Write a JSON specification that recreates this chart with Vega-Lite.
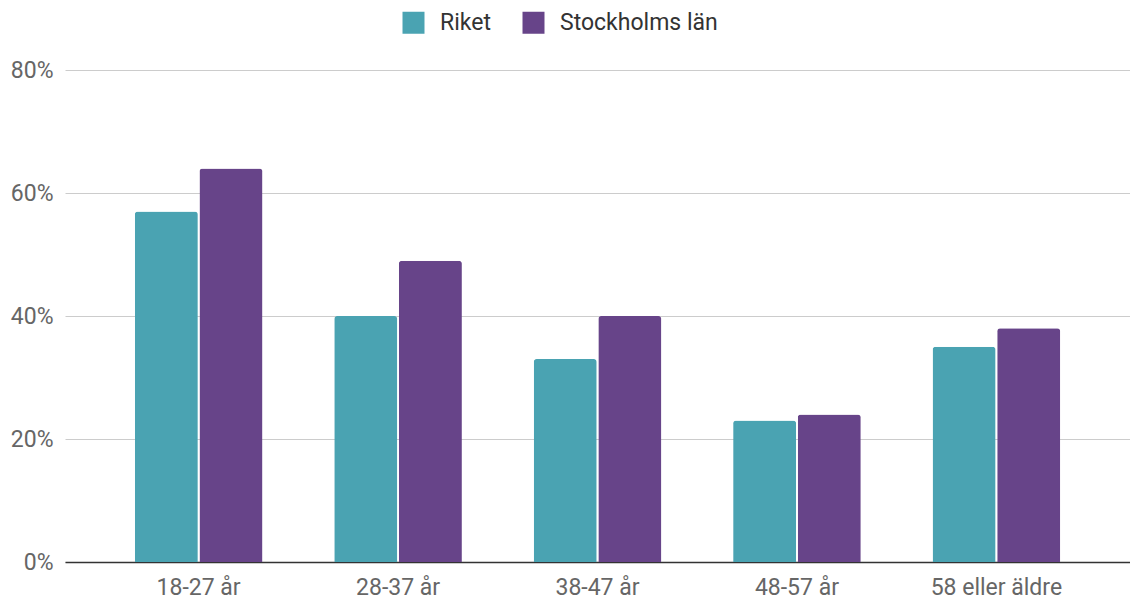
{
  "$schema": "https://vega.github.io/schema/vega-lite/v6.json",
  "width": 1065,
  "height": 492,
  "autosize": "none",
  "padding": {"left": 65, "top": 70, "right": 0, "bottom": 37},
  "background": "white",
  "config": {
    "font": "Roboto",
    "view": {"stroke": null}
  },
  "data": {
    "values": [
      {"grupp": "18-27 år", "serie": "Riket", "andel": 0.57},
      {"grupp": "18-27 år", "serie": "Stockholms län", "andel": 0.64},
      {"grupp": "28-37 år", "serie": "Riket", "andel": 0.40},
      {"grupp": "28-37 år", "serie": "Stockholms län", "andel": 0.49},
      {"grupp": "38-47 år", "serie": "Riket", "andel": 0.33},
      {"grupp": "38-47 år", "serie": "Stockholms län", "andel": 0.40},
      {"grupp": "48-57 år", "serie": "Riket", "andel": 0.23},
      {"grupp": "48-57 år", "serie": "Stockholms län", "andel": 0.24},
      {"grupp": "58 eller äldre", "serie": "Riket", "andel": 0.35},
      {"grupp": "58 eller äldre", "serie": "Stockholms län", "andel": 0.38}
    ]
  },
  "mark": {"type": "bar", "cornerRadiusTopLeft": 3, "cornerRadiusTopRight": 3},
  "encoding": {
    "x": {
      "field": "grupp",
      "type": "nominal",
      "sort": null,
      "title": null,
      "scale": {"paddingInner": 0.36, "paddingOuter": 0.35},
      "axis": {
        "labelAngle": 0,
        "labelFontSize": 23,
        "labelColor": "#666666",
        "labelPadding": 14,
        "ticks": false,
        "domainColor": "#333333",
        "domainWidth": 1.5
      }
    },
    "xOffset": {
      "field": "serie",
      "type": "nominal",
      "scale": {"paddingInner": 0.025}
    },
    "y": {
      "field": "andel",
      "type": "quantitative",
      "title": null,
      "scale": {"domain": [0, 0.8]},
      "axis": {
        "values": [0, 0.2, 0.4, 0.6, 0.8],
        "format": ".0%",
        "labelFontSize": 23,
        "labelColor": "#666666",
        "labelPadding": 12,
        "ticks": false,
        "domain": false,
        "gridColor": "#cccccc",
        "gridWidth": 1
      }
    },
    "color": {
      "field": "serie",
      "type": "nominal",
      "title": null,
      "scale": {"domain": ["Riket", "Stockholms län"], "range": ["#4aa3b2", "#674489"]},
      "legend": {
        "orient": "none",
        "direction": "horizontal",
        "legendX": 337,
        "legendY": -59,
        "symbolType": "square",
        "symbolSize": 484,
        "symbolStrokeWidth": 0,
        "labelFontSize": 23,
        "labelColor": "#333333",
        "labelOffset": 15,
        "columnPadding": 31
      }
    }
  }
}
